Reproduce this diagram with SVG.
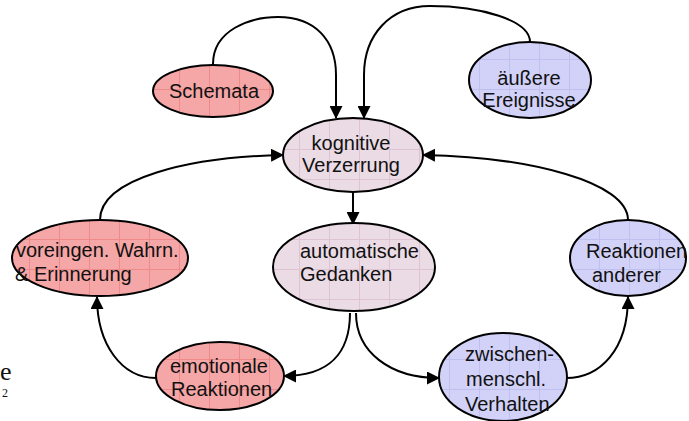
<svg xmlns="http://www.w3.org/2000/svg" width="689" height="421" viewBox="0 0 689 421">
<defs>
<marker id="ah" viewBox="0 0 13 13" refX="12" refY="6.5" markerWidth="13" markerHeight="13" markerUnits="userSpaceOnUse" orient="auto">
<path d="M0,0 L13,6.5 L0,13 Z" fill="#000"/>
</marker>
<pattern id="pr" width="30" height="30" patternUnits="userSpaceOnUse"><rect width="30" height="30" fill="#f5a6a6"/><path d="M29.5,0 V30 M0,29.5 H30" stroke="#ee8a8a" stroke-width="1"/></pattern>
<pattern id="pp" width="30" height="30" patternUnits="userSpaceOnUse"><rect width="30" height="30" fill="#eadbe5"/><path d="M29.5,0 V30 M0,29.5 H30" stroke="#ddc3d3" stroke-width="1"/></pattern>
<pattern id="pb" width="30" height="30" patternUnits="userSpaceOnUse"><rect width="30" height="30" fill="#d2d2f8"/><path d="M29.5,0 V30 M0,29.5 H30" stroke="#c0c0f0" stroke-width="1"/></pattern>
</defs>
<style>
.n ellipse{stroke:#000;stroke-width:2}
.red{fill:url(#pr)}
.pink{fill:url(#pp)}
.blue{fill:url(#pb)}
text{font-family:"Liberation Sans",Arial,sans-serif;font-size:20px;fill:#111}
.c{text-anchor:middle}
.e path{fill:none;stroke:#000;stroke-width:2;marker-end:url(#ah)}
</style>
<rect width="689" height="421" fill="#fff"/>
<g class="e" id="connectors">
<path d="M213,64 C213,30 250,17 278,17 C315,17 336,40 336,75 L336,118"/>
<path d="M530,42 C530,20 480,6 430,6 C390,6 364,35 364,75 L364,118"/>
<path d="M100,220 C100,178 190,157 283,155"/>
<path d="M628,220 C628,182 530,157 423,155"/>
<path d="M353,193 L353,224"/>
<path d="M350,313 C350,352 330,376 284,376"/>
<path d="M356,313 C356,352 390,378 439,378"/>
<path d="M156,378 C122,378 97,345 97,297"/>
<path d="M566,378 C600,378 628,350 628,297"/>
</g>
<g class="n" id="schemata"><ellipse class="red" cx="213" cy="91" rx="60" ry="26"/><text class="c" x="214" y="98">Schemata</text></g>
<g class="n" id="aeussere"><ellipse class="blue" cx="530" cy="80" rx="61" ry="38"/><text class="c" x="529" y="85">äußere</text><text class="c" x="529" y="107">Ereignisse</text></g>
<g class="n" id="kognitive"><ellipse class="pink" cx="353" cy="155" rx="70" ry="37"/><text class="c" x="351" y="150">kognitive</text><text class="c" x="351" y="172">Verzerrung</text></g>
<g class="n" id="voreingen"><ellipse class="red" cx="100" cy="258" rx="88" ry="38"/><text x="16" y="257">voreingen. Wahrn.</text><text x="15" y="281">&amp; Erinnerung</text></g>
<g class="n" id="automatische"><ellipse class="pink" cx="354" cy="267" rx="81" ry="44"/><text x="300" y="258">automatische</text><text x="300" y="281">Gedanken</text></g>
<g class="n" id="reaktionenanderer"><ellipse class="blue" cx="628" cy="258" rx="58" ry="38"/><text x="586" y="258">Reaktionen</text><text x="592" y="282">anderer</text></g>
<g class="n" id="emotionale"><ellipse class="red" cx="220" cy="376" rx="64" ry="34"/><text x="170" y="373">emotionale</text><text x="171" y="396">Reaktionen</text></g>
<g class="n" id="zwischen"><ellipse class="blue" cx="503" cy="377" rx="64" ry="44"/><text x="465" y="361">zwischen-</text><text x="466" y="386">menschl.</text><text x="465" y="411">Verhalten</text></g>
<text x="0" y="380" style="font-family:'Liberation Serif',serif;font-size:26px">e</text>
<text x="2" y="397" style="font-family:'Liberation Serif',serif;font-size:12px">2</text>
</svg>
